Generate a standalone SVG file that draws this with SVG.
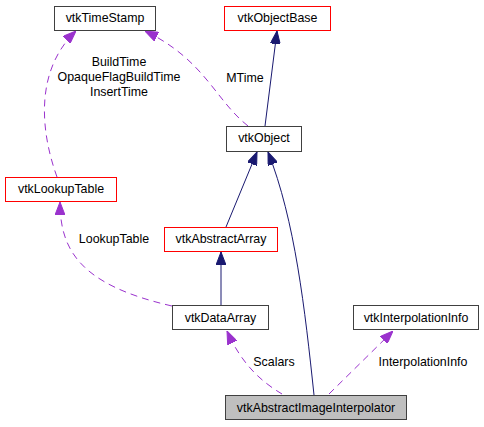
<svg xmlns="http://www.w3.org/2000/svg" width="484" height="427" viewBox="0 0 484 427">
<defs>
<style>
.node rect{fill:#ffffff;stroke:#404040;stroke-width:1}
.node.red rect{stroke:#ff0000}
.node.cur rect{fill:#bfbfbf}
text{font-family:"Liberation Sans",Arial,sans-serif;font-size:12.4px;fill:#000000;text-anchor:middle}
.inh{fill:none;stroke:#191970;stroke-width:1;marker-end:url(#an)}
.use{fill:none;stroke:#9a32cd;stroke-width:1;stroke-dasharray:7,5;marker-end:url(#ap)}
</style>
<marker id="an" viewBox="0 0 13 10" refX="13" refY="5" markerWidth="13" markerHeight="10" markerUnits="userSpaceOnUse" orient="auto">
<path d="M0,0 L13,5 L0,10 Z" fill="#191970" stroke="#191970" stroke-width="1"/>
</marker>
<marker id="ap" viewBox="0 0 13 10" refX="13" refY="5" markerWidth="13" markerHeight="10" markerUnits="userSpaceOnUse" orient="auto">
<path d="M0,0 L13,5 L0,10 Z" fill="#9a32cd" stroke="#9a32cd" stroke-width="1"/>
</marker>
</defs>
<rect x="0" y="0" width="484" height="427" fill="#ffffff"/>
<g id="connectors">
<path class="inh" d="M265,126 L277,31"/>
<path class="inh" d="M226,227 L257,152"/>
<path class="inh" d="M314,395 C305,310 295,220 268,152"/>
<path class="inh" d="M221,305 L221,252"/>
<path class="use" d="M172,306 C80,285 60,250 60,202"/>
<text x="114" y="243">LookupTable</text>
<path class="use" d="M57,177 C40,130 35,70 76,31"/>
<text x="119" y="66">BuildTime</text>
<text x="119" y="81">OpaqueFlagBuildTime</text>
<text x="119" y="96">InsertTime</text>
<path class="use" d="M248,126 C215,100 205,60 145,31"/>
<text x="245" y="82">MTime</text>
<path class="use" d="M282,394 C262,382 242,365 227,331"/>
<text x="274" y="366">Scalars</text>
<path class="use" d="M329,394 L393,331"/>
<text x="423" y="366">InterpolationInfo</text>
</g>
<g id="vtkTimeStamp" class="node"><rect x="54.5" y="6.5" width="101" height="24"/><text x="105" y="22">vtkTimeStamp</text></g>
<g id="vtkObjectBase" class="node red"><rect x="224.5" y="6.5" width="106" height="24"/><text x="277.5" y="22">vtkObjectBase</text></g>
<g id="vtkObject" class="node"><rect x="226.5" y="126.5" width="75" height="25"/><text x="264" y="142">vtkObject</text></g>
<g id="vtkLookupTable" class="node red"><rect x="5.5" y="177.5" width="111" height="24"/><text x="61" y="193">vtkLookupTable</text></g>
<g id="vtkAbstractArray" class="node red"><rect x="164.5" y="227.5" width="113" height="24"/><text x="221" y="243">vtkAbstractArray</text></g>
<g id="vtkDataArray" class="node"><rect x="172.5" y="305.5" width="96" height="24"/><text x="220.5" y="321.5">vtkDataArray</text></g>
<g id="vtkInterpolationInfo" class="node"><rect x="353.5" y="305.5" width="125" height="24"/><text x="416" y="321.5">vtkInterpolationInfo</text></g>
<g id="vtkAbstractImageInterpolator" class="node cur"><rect x="225.5" y="395.5" width="181" height="24"/><text x="316" y="411.5">vtkAbstractImageInterpolator</text></g>
</svg>
